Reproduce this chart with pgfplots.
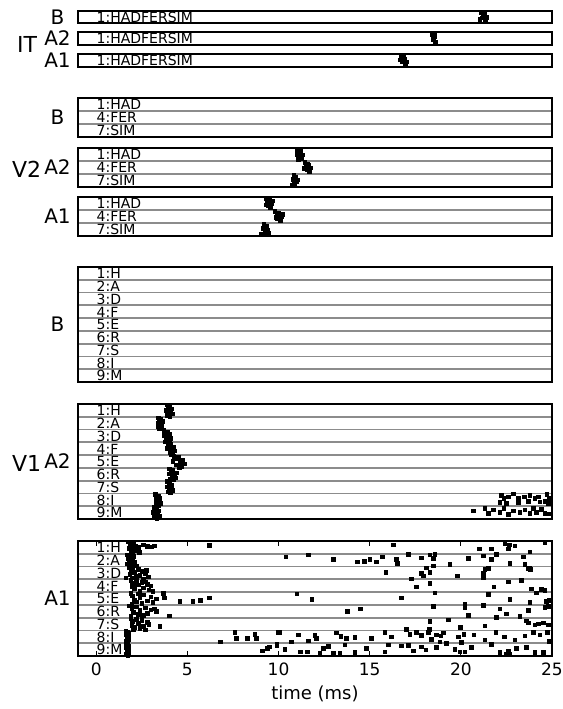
\documentclass[border=0pt]{standalone}
\usepackage{fontspec}
\setmainfont{DejaVu Sans}
\usepackage{pgfplots}
\pgfplotsset{compat=1.18}

\pgfplotsset{
  raster/.style={
    scale only axis, width=237pt, anchor=north west,
    xmin=-1, xmax=25, ymin=0, y dir=reverse,
    axis line style={line width=1pt},
    xtick=\empty, ytick=\empty, yticklabels={,,},
    y tick style={draw=none},
    ymajorgrids, grid style={gray!90, line width=0.9pt},
  },
  spk/.style={only marks, mark=square*, mark size=0.9pt, draw=black, fill=black,
    mark options={solid, draw=black, fill=black}},
}
\tikzset{side/.style={font=\fontsize{10}{12}\selectfont, anchor=center},
  area/.style={font=\fontsize{11}{14}\selectfont, anchor=west},
  lab/.style={anchor=base west, inner sep=0pt, font=\fontsize{7}{7}\selectfont}}

\newcommand\itlabel{\node[lab] at (axis cs:0,0.92) {1:HADFERSIM};}
\newcommand\vtwolabels{%
  \node[lab] at (axis cs:0,0.92) {1:HAD};
  \node[lab] at (axis cs:0,1.92) {4:FER};
  \node[lab] at (axis cs:0,2.92) {7:SIM};}
\newcommand\vonelabels{%
  \node[lab] at (axis cs:0,0.92) {1:H};
  \node[lab] at (axis cs:0,1.92) {2:A};
  \node[lab] at (axis cs:0,2.92) {3:D};
  \node[lab] at (axis cs:0,3.92) {4:F};
  \node[lab] at (axis cs:0,4.92) {5:E};
  \node[lab] at (axis cs:0,5.92) {6:R};
  \node[lab] at (axis cs:0,6.92) {7:S};
  \node[lab] at (axis cs:0,7.92) {8:I};
  \node[lab] at (axis cs:0,8.92) {9:M};}

\begin{document}
\begin{tikzpicture}
\useasboundingbox (0,0) rectangle (281.5pt,-354.5pt);

% ---------------- IT ----------------
\begin{axis}[raster, at={(39pt,-5.25pt)}, height=6.25pt, ymax=1]
\addplot[spk] coordinates {(21.1,0.2) (21.25,0.4) (21.15,0.6) (21.35,0.8) (21.2,0.5) (21.3,0.3) (21.05,0.7) (21.4,0.55)};
\itlabel
\end{axis}
\begin{axis}[raster, at={(39pt,-15.75pt)}, height=6.5pt, ymax=1]
\addplot[spk] coordinates {(18.45,0.2) (18.55,0.4) (18.5,0.6) (18.6,0.8) (18.48,0.5) (18.58,0.3)};
\itlabel
\end{axis}
\begin{axis}[raster, at={(39pt,-26.75pt)}, height=6.5pt, ymax=1]
\addplot[spk] coordinates {(16.75,0.2) (16.9,0.4) (16.8,0.6) (16.95,0.8) (16.7,0.5) (16.85,0.3) (17.0,0.65)};
\itlabel
\end{axis}
\node[side] at (28.75pt,-8.4pt) {B};
\node[side] at (28.75pt,-19pt) {A2};
\node[side] at (28.75pt,-30pt) {A1};
\node[area] at (5pt,-22pt) {IT};

% ---------------- V2 ----------------
\begin{axis}[raster, at={(39pt,-49pt)}, height=19.25pt, ymax=3, ytick={1,2}]
\vtwolabels
\end{axis}
\begin{axis}[raster, at={(39pt,-74pt)}, height=19.25pt, ymax=3, ytick={1,2}]
\addplot[spk] coordinates {
 (11.05,0.1) (11.2,0.25) (11.1,0.4) (11.3,0.55) (11.15,0.7) (11.25,0.85) (11.0,0.5) (11.1,0.9)
 (11.45,1.1) (11.6,1.25) (11.5,1.4) (11.75,1.55) (11.55,1.7) (11.7,1.85) (11.4,1.6) (11.65,1.35)
 (10.85,2.15) (10.95,2.3) (10.8,2.45) (11.0,2.6) (10.9,2.75) (10.75,2.9) (11.05,2.5) (10.85,2.85)};
\vtwolabels
\end{axis}
\begin{axis}[raster, at={(39pt,-98.5pt)}, height=19.25pt, ymax=3, ytick={1,2}]
\addplot[spk] coordinates {
 (9.35,0.1) (9.5,0.25) (9.4,0.4) (9.6,0.55) (9.45,0.7) (9.55,0.85) (9.35,0.6) (9.65,0.3)
 (9.8,1.1) (10.0,1.25) (9.9,1.4) (10.15,1.55) (9.95,1.7) (10.1,1.85) (9.85,1.6) (10.2,1.35)
 (9.2,2.15) (9.35,2.3) (9.15,2.45) (9.4,2.6) (9.25,2.75) (9.05,2.9) (9.45,2.8) (9.3,2.9)};
\vtwolabels
\end{axis}
\node[side] at (28.75pt,-58.75pt) {B};
\node[side] at (28.75pt,-83.75pt) {A2};
\node[side] at (28.75pt,-108.25pt) {A1};
\node[area] at (2.5pt,-84.5pt) {V2};

% ---------------- V1 ----------------
\begin{axis}[raster, at={(39pt,-133.5pt)}, height=57.5pt, ymax=9, ytick={1,...,8}]
\vonelabels
\end{axis}
\begin{axis}[raster, at={(39pt,-202pt)}, height=57.5pt, ymax=9, ytick={1,...,8}]
\addplot[spk] coordinates {
 (3.9,0.08) (4.05,0.18) (3.95,0.28) (4.15,0.38) (3.85,0.48) (4.1,0.58) (4.0,0.68) (4.18,0.78) (3.92,0.88) (4.05,0.95)
 (3.4,1.08) (3.55,1.18) (3.45,1.28) (3.62,1.38) (3.38,1.48) (3.5,1.58) (3.6,1.68) (3.42,1.78) (3.55,1.88) (3.48,1.95)
 (3.72,2.08) (3.9,2.18) (3.8,2.28) (4.05,2.38) (3.75,2.48) (3.95,2.58) (4.1,2.68) (3.85,2.78) (4.0,2.88) (3.78,2.95)
 (3.95,3.08) (4.1,3.18) (4.0,3.28) (4.25,3.38) (3.92,3.48) (4.15,3.58) (4.3,3.68) (4.05,3.78) (4.2,3.88) (4.1,3.95)
 (4.25,4.08) (4.5,4.18) (4.35,4.28) (4.75,4.38) (4.2,4.48) (4.6,4.58) (4.85,4.68) (4.4,4.78) (4.7,4.88) (4.55,4.95)
 (4.0,5.08) (4.2,5.18) (4.1,5.28) (4.4,5.38) (3.98,5.48) (4.3,5.58) (4.15,5.68) (4.35,5.78) (4.05,5.88) (4.25,5.95)
 (3.92,6.08) (4.05,6.18) (3.98,6.28) (4.15,6.38) (3.9,6.48) (4.1,6.58) (4.0,6.68) (4.18,6.78) (3.95,6.88) (4.08,6.95)
 (3.25,7.08) (3.4,7.18) (3.3,7.28) (3.5,7.38) (3.28,7.48) (3.45,7.58) (3.35,7.68) (3.52,7.78) (3.3,7.88) (3.42,7.95)
 (3.18,8.08) (3.3,8.18) (3.22,8.28) (3.42,8.38) (3.15,8.48) (3.35,8.58) (3.25,8.68) (3.45,8.78) (3.2,8.88) (3.32,8.95)
 (22.24,7.13) (22.37,7.39) (22.61,7.26) (22.88,7.05) (23.15,7.39) (23.47,7.26) (23.79,7.13) (24.07,7.39) (24.25,7.26)
 (24.71,7.08) (24.85,7.39) (22.15,7.7) (22.51,7.78) (23.15,7.7) (23.7,7.6) (24.34,7.65) (24.62,7.6) (24.8,7.78)
 (20.69,8.38) (21.33,8.17) (21.51,8.56) (21.78,8.3) (22.15,8.49) (22.37,8.17) (22.61,8.64) (22.88,8.38)
 (23.25,8.49) (23.52,8.3) (23.79,8.56) (24.16,8.49) (24.43,8.25) (24.62,8.56) (23.98,8.17) (24.8,8.6)};
\vonelabels
\end{axis}
\begin{axis}[raster, at={(39pt,-270.5pt)}, height=57.5pt, ymax=9, ytick={1,...,8},
  xtick={0,5,...,25}, tick align=inside, major tick length=2.5pt,
  x tick style={black, line width=0.5pt},
  xticklabel style={font=\fontsize{8.5}{10}\selectfont, /pgf/number format/assume math mode=true},
  xlabel={time (ms)},
  xlabel style={font=\fontsize{9}{10}\selectfont, at={(axis description cs:0.5,0)}, anchor=center, yshift=-19pt}]
% onset cluster
\addplot[spk] coordinates {
 (1.78,0.08) (1.92,0.15) (2.05,0.22) (1.85,0.3) (2.15,0.38) (1.98,0.45) (2.3,0.52) (1.8,0.6) (2.08,0.68)
 (2.22,0.75) (1.9,0.82) (2.38,0.9) (2.0,0.95) (2.8,0.4) (3.05,0.45) (3.2,0.38) (2.6,0.3) (6.2,0.35)
 (1.7,1.08) (1.8,1.18) (1.9,1.28) (1.75,1.38) (2.0,1.48) (1.85,1.58) (2.1,1.68) (1.72,1.78) (1.95,1.88) (2.2,1.95) (1.82,1.5) (2.05,1.2)
 (1.8,2.08) (2.0,2.15) (2.3,2.22) (1.9,2.3) (2.5,2.38) (2.1,2.45) (2.7,2.52) (1.85,2.6) (2.4,2.68) (2.2,2.75) (2.85,2.82) (1.95,2.9) (2.6,2.95) (1.62,2.9) (2.75,2.3)
 (1.9,3.08) (2.2,3.15) (2.5,3.22) (2.0,3.3) (2.8,3.38) (2.3,3.45) (3.0,3.52) (1.95,3.6) (2.6,3.68) (2.1,3.75) (2.9,3.82) (2.4,3.9) (3.1,3.95) (2.05,3.45) (2.7,3.2)
 (1.9,4.08) (2.3,4.15) (2.6,4.22) (2.0,4.3) (3.0,4.38) (2.4,4.45) (3.3,4.52) (2.1,4.6) (2.8,4.68) (2.2,4.75) (3.1,4.82) (2.5,4.9) (1.95,4.95)
 (3.7,4.12) (3.75,4.45) (4.6,4.74) (5.3,4.74) (5.7,4.66) (6.2,4.45)
 (1.8,5.08) (2.2,5.15) (2.7,5.22) (1.95,5.3) (3.0,5.38) (2.4,5.45) (3.3,5.52) (2.05,5.6) (2.8,5.68) (2.3,5.75) (2.6,5.82) (1.9,5.9) (2.5,5.95) (4.0,5.85) (3.2,5.3)
 (1.9,6.08) (2.2,6.15) (2.5,6.22) (2.0,6.3) (2.8,6.38) (2.3,6.45) (2.9,6.52) (1.95,6.6) (2.6,6.68) (2.1,6.75) (2.4,6.82) (2.05,6.9) (2.7,6.95) (3.5,6.7)
 (1.62,7.05) (1.7,7.15) (1.75,7.25) (1.65,7.35) (1.8,7.45) (1.68,7.55) (1.72,7.65) (1.78,7.75) (1.66,7.85) (1.74,7.95)
 (1.62,8.05) (1.7,8.15) (1.75,8.25) (1.65,8.35) (1.8,8.45) (1.68,8.55) (1.72,8.65) (1.78,8.75) (1.66,8.85) (1.74,8.95)
 (7.6,7.16) (6.8,7.9) (7.7,7.6) (8.3,7.63) (8.7,7.3) (8.8,7.63) (10.0,7.16)
 (9.1,8.6) (9.4,8.4) (9.5,8.3) (9.9,8.15)};
% spontaneous spikes
\addplot[spk] coordinates {
 (16.29,0.32) (21.01,0.63) (21.69,0.63) (22.42,0.18) (22.66,0.32) (22.6,0.63) (22.97,0.37) (23.79,0.84) (24.61,0.1)
 (10.41,1.24) (11.63,1.1) (13.0,1.42) (14.32,1.63) (14.7,1.58) (15.01,1.42) (15.38,1.63) (15.71,1.24) (16.48,1.42)
 (16.51,1.76) (17.12,1.05) (17.85,1.32) (18.3,1.1) (18.49,1.37) (18.58,1.05) (19.4,1.84) (20.41,1.37) (21.23,1.16)
 (21.69,1.42) (21.96,1.05) (22.69,1.76) (23.42,1.24) (23.52,1.84) (23.79,2.1)
 (15.89,2.47) (17.3,2.95) (17.85,2.55) (17.94,2.74) (18.12,2.1) (18.3,2.47) (18.49,1.95) (19.8,2.74) (21.23,2.55)
 (21.32,2.24) (21.5,2.16) (23.7,2.16) (23.83,2.2)
 (17.57,3.6) (18.3,3.34) (21.23,2.9) (21.81,3.6) (22.6,3.2) (23.33,3.08) (23.88,3.74) (24.15,4.05) (24.43,3.79) (24.61,3.87)
 (11.0,4.13) (11.82,4.58) (16.75,4.45) (18.58,4.05) (21.5,4.2) (22.69,4.58) (23.79,4.79) (24.7,4.74) (24.85,4.66) (24.61,5.18)
 (13.77,5.53) (14.5,5.3) (18.49,5.1) (20.22,4.92) (20.22,5.18) (21.23,5.05) (22.14,5.3) (22.51,5.7) (23.7,5.45) (24.8,5.1)
 (18.3,6.3) (19.31,6.16) (20.41,5.84) (21.96,5.97) (23.24,5.9) (23.61,6.24) (23.7,6.42) (24.06,6.58) (24.25,6.5)
 (24.8,6.58) (24.52,6.42) (19.99,6.76) (21.32,6.63)
 (10.08,7.16) (11.08,7.34) (11.63,7.82) (12.0,7.37) (12.09,7.63) (13.19,7.2) (13.41,7.47) (13.73,7.63) (14.19,7.55)
 (15.11,7.63) (15.84,7.15) (16.2,7.5) (17.03,6.9) (17.21,7.29) (17.57,7.16) (17.85,7.37) (18.21,7.16) (18.27,6.9)
 (18.67,7.34) (18.91,7.42) (19.04,7.2) (19.86,7.5) (20.17,7.29) (20.72,7.34) (21.32,7.74) (21.92,7.16) (22.38,7.5)
 (22.97,7.74) (23.52,7.42) (23.97,7.16) (24.34,7.34) (24.76,7.16) (24.85,7.87) (20.04,7.95) (18.85,7.9) (18.4,7.68)
 (9.9,8.08) (10.35,8.47) (10.72,7.9) (11.21,8.68) (11.58,8.68) (12.27,8.79) (12.45,8.4) (12.73,8.26) (13.0,8.79)
 (13.37,8.79) (13.64,8.13) (14.19,8.74) (14.83,8.4) (15.84,8.68) (16.02,8.13) (16.75,8.21) (17.12,8.16) (17.39,8.6)
 (17.85,8.29) (18.09,8.53) (18.67,8.34) (19.22,8.0) (19.68,8.47) (19.95,8.68) (20.22,8.68) (20.59,8.34) (21.69,8.08)
 (22.14,8.74) (22.51,8.87) (22.66,8.87) (23.06,8.42) (23.61,8.34) (24.06,8.74) (24.52,8.74) (22.6,8.6)};
\vonelabels
\end{axis}
\node[side] at (28.75pt,-162.25pt) {B};
\node[side] at (28.75pt,-230.75pt) {A2};
\node[side] at (28.75pt,-299.25pt) {A1};
\node[area] at (2.5pt,-231.5pt) {V1};
\end{tikzpicture}
\end{document}
